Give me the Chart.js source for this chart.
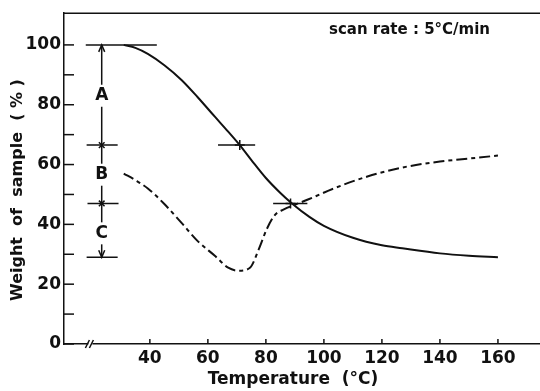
<!DOCTYPE html>
<html>
<head>
<meta charset="utf-8">
<script src="https://cdn.jsdelivr.net/npm/chart.js@4.4.0/dist/chart.umd.min.js"></script>
<style>
  html, body { margin: 0; padding: 0; background: #fff; overflow: hidden; }
  canvas { display: block; }
</style>
</head>
<body>
<canvas id="tg" width="540" height="391"></canvas>
<script>
// curves (temperature, weight %)
var solidT = [31, 35, 39.3, 45, 51, 56.5, 62.4, 67, 71, 75, 80, 85, 89, 95, 100, 110, 120, 127, 140, 150, 160]
var solidW = [100, 99, 97, 93.2, 88.2, 82.5, 76, 71, 66.5, 61.5, 55.5, 50.5, 47, 42.5, 39.5, 35.5, 33, 32, 30.3, 29.5, 29]
var dashT = [31, 35, 39.3, 45, 51, 56.5, 62.4, 67, 70.6, 74.5, 77.6, 80.3, 83, 86.2, 90.3, 94.5, 103.4, 115, 127, 140, 150, 160]
var dashW = [57, 54.8, 52, 46.8, 40.4, 34.4, 29.5, 25.5, 24.5, 25.5, 31.8, 38.4, 43, 45, 46.7, 48.3, 52, 56, 59, 61, 62, 63]

var xTicks = [40, 60, 80, 100, 120, 140, 160]
var yTicks = [0, 20, 40, 60, 80, 100]
var yMinor = [10, 30, 50, 70, 90]

// level lines: [weight, from T, to T]
var levels = [[100, 17.9, 42.4], [66.5, 18.2, 28.9], [47, 18.5, 29.2], [29, 18.2, 28.9], [66.5, 63.5, 76.3], [47, 82.5, 94.3]]
var bracketT = 23.4
var bracketW = [29, 100]
var crossBracket = [66.5, 47]
var crossCurve = [[71, 66.5], [88.5, 47]]
var labels = [['A', 83], ['B', 56.6], ['C', 37]]
var breakT = 19.5

var font = 'DejaVu Sans'

var datasets = []
datasets.push({
    data: solidT.map((t, i) => ({x: t, y: solidW[i]})),
    borderColor: '#111', borderWidth: 2, pointRadius: 0,
    cubicInterpolationMode: 'monotone'
})
datasets.push({
    data: dashT.map((t, i) => ({x: t, y: dashW[i]})),
    borderColor: '#111', borderWidth: 2, pointRadius: 0, borderDash: [11, 4, 4, 4],
    cubicInterpolationMode: 'monotone'
})
levels.forEach(function(l){
    datasets.push({
        data: [{x: l[1], y: l[0]}, {x: l[2], y: l[0]}],
        borderColor: '#111', borderWidth: 1.5, pointRadius: 0
    })
})
datasets.push({
    data: [{x: bracketT, y: bracketW[0]}, {x: bracketT, y: bracketW[1]}],
    borderColor: '#111', borderWidth: 1.5, pointRadius: 0
})
datasets.push({
    data: crossBracket.map(w => ({x: bracketT, y: w})),
    showLine: false, pointStyle: 'crossRot', pointRadius: 4,
    borderColor: '#111', pointBorderWidth: 1.5
})
datasets.push({
    data: crossCurve.map(p => ({x: p[0], y: p[1]})),
    showLine: false, pointStyle: 'cross', pointRadius: 5,
    borderColor: '#111', pointBorderWidth: 1.5
})

var extras = {
    id: 'extras',
    afterDraw: function(chart){
        var c = chart.ctx, a = chart.chartArea
        var xs = chart.scales.x, ys = chart.scales.y
        c.save()
        c.strokeStyle = '#111'
        c.fillStyle = '#111'
        c.lineWidth = 1.5
        // top frame line
        c.beginPath(); c.moveTo(a.left, a.top); c.lineTo(a.right, a.top); c.stroke()
        // inward ticks
        yTicks.concat(yMinor).forEach(function(v){
            var py = ys.getPixelForValue(v)
            c.beginPath(); c.moveTo(a.left, py); c.lineTo(a.left + 10, py); c.stroke()
        })
        xTicks.forEach(function(v){
            var px = xs.getPixelForValue(v)
            c.beginPath(); c.moveTo(px, a.bottom); c.lineTo(px, a.bottom - 5); c.stroke()
        })
        // axis break
        var bx = xs.getPixelForValue(breakT)
        c.fillStyle = '#fff'
        c.fillRect(bx - 2, a.bottom - 3, 4, 6)
        c.beginPath()
        c.moveTo(bx - 5, a.bottom + 4); c.lineTo(bx - 1, a.bottom - 4)
        c.moveTo(bx - 1, a.bottom + 4); c.lineTo(bx + 3, a.bottom - 4)
        c.stroke()
        // arrowheads at bracket ends
        var bxp = xs.getPixelForValue(bracketT)
        var topY = ys.getPixelForValue(bracketW[1]), botY = ys.getPixelForValue(bracketW[0])
        c.beginPath()
        c.moveTo(bxp - 3, topY + 7); c.lineTo(bxp, topY); c.lineTo(bxp + 3, topY + 7)
        c.moveTo(bxp - 3, botY - 7); c.lineTo(bxp, botY); c.lineTo(bxp + 3, botY - 7)
        c.stroke()
        // A B C labels
        c.font = 'bold 17px ' + font
        c.textAlign = 'center'
        c.textBaseline = 'middle'
        labels.forEach(function(l){
            var py = ys.getPixelForValue(l[1])
            c.fillStyle = '#fff'
            c.fillRect(bxp - 8, py - 11, 16, 22)
            c.fillStyle = '#111'
            c.fillText(l[0], bxp, py)
        })
        // axis titles
        c.font = 'bold 17px ' + font
        c.fillText('Temperature  (°C)', 293, 380)
        c.save()
        c.translate(18, 190)
        c.rotate(-Math.PI / 2)
        c.font = 'bold 16px ' + font
        c.fillText('Weight  of  sample  ( % )', 0, 0)
        c.restore()
        // scan rate note
        c.font = 'bold 15px ' + font
        c.textAlign = 'left'
        c.fillText('scan rate : 5°C/min', 329, 30)
        c.restore()
    }
}

var ctx = document.getElementById('tg')
var chartTG = new Chart(ctx, {
    type: 'line',
    data: { datasets: datasets },
    options: {
        responsive: false,
        animation: false,
        layout: { autoPadding: false, padding: { top: 10, right: 0, left: 0, bottom: 0 } },
        plugins: { legend: { display: false }, tooltip: { enabled: false } },
        scales: {
            x: {
                type: 'linear', min: 10.4, max: 174.5,
                grid: { display: false, drawTicks: false },
                border: { display: true, color: '#111', width: 1.5 },
                afterBuildTicks: function(s){ s.ticks = xTicks.map(v => ({value: v})) },
                afterFit: function(s){ s.height = 47 },
                ticks: { color: '#111', padding: 4, maxRotation: 0, font: { family: font, size: 17, weight: 'bold' } }
            },
            y: {
                min: 0, max: 110.6,
                grid: { display: false, drawTicks: false },
                border: { display: true, color: '#111', width: 1.5 },
                afterBuildTicks: function(s){ s.ticks = yTicks.map(v => ({value: v})) },
                afterFit: function(s){ s.width = 64 },
                ticks: { color: '#111', padding: 3, font: { family: font, size: 17, weight: 'bold' } }
            }
        }
    },
    plugins: [extras]
});
</script>
</body>
</html>
